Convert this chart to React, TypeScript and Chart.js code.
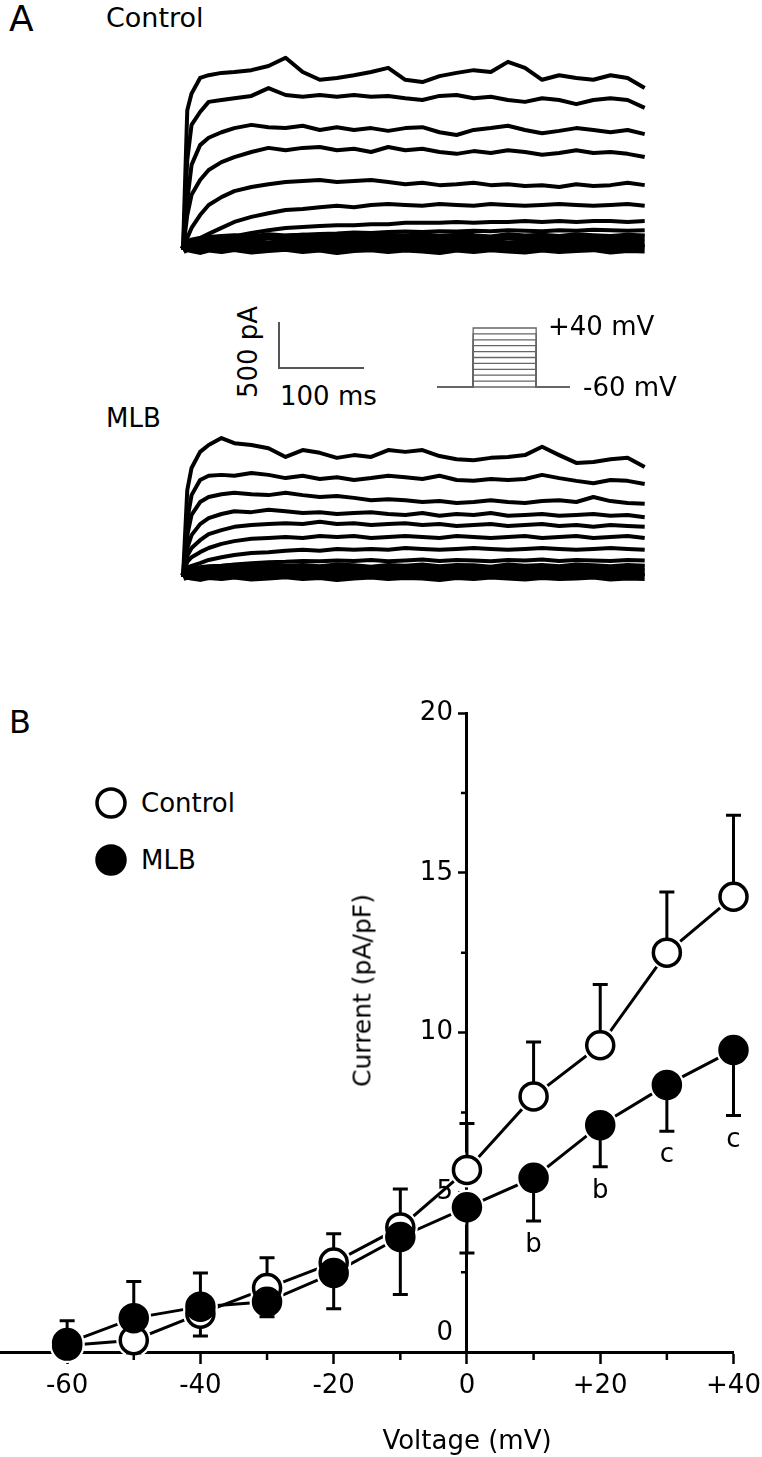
import React, { useEffect, useRef } from "react";
import { Chart, registerables } from "chart.js";

Chart.register(...registerables);

const FONT = "'DejaVu Sans', Verdana, sans-serif";

// ---------------- Panel A: current traces (pA) sampled at these times (ms) ----------------
const traceTimesMs = [0, 5, 10, 20, 30, 45, 60, 80, 100, 120, 140, 160, 180, 200, 220, 240, 260, 280, 300, 320, 340, 360, 380, 400, 420, 440, 460, 480, 500, 520, 540];

// Control traces, steps +40 ... -60 mV
const controlP40 = [0, 1520, 1700, 1870, 1900, 1925, 1935, 1955, 2000, 2090, 1935, 1850, 1870, 1900, 1935, 1980, 1850, 1825, 1890, 1925, 1955, 1935, 2045, 1980, 1850, 1900, 1870, 1850, 1900, 1870, 1760];
const controlP30 = [0, 980, 1360, 1500, 1610, 1630, 1650, 1675, 1760, 1685, 1665, 1685, 1665, 1685, 1665, 1675, 1650, 1630, 1675, 1685, 1650, 1665, 1630, 1610, 1650, 1630, 1585, 1630, 1650, 1630, 1545];
const controlP20 = [0, 540, 925, 1140, 1220, 1280, 1325, 1360, 1335, 1325, 1350, 1305, 1335, 1305, 1325, 1295, 1325, 1335, 1280, 1250, 1305, 1325, 1350, 1305, 1270, 1295, 1325, 1305, 1280, 1305, 1260];
const controlP10 = [0, 380, 600, 760, 870, 955, 1010, 1065, 1110, 1085, 1110, 1120, 1085, 1100, 1065, 1120, 1085, 1100, 1065, 1045, 1075, 1055, 1085, 1065, 1035, 1055, 1085, 1055, 1065, 1045, 1010];
const control0 = [0, 130, 240, 380, 490, 575, 640, 685, 715, 740, 750, 760, 740, 750, 760, 740, 715, 730, 705, 715, 730, 705, 715, 695, 705, 685, 715, 695, 705, 730, 705];
const controlM10 = [0, 55, 85, 130, 175, 240, 305, 360, 400, 435, 445, 465, 480, 465, 490, 500, 490, 480, 500, 490, 480, 500, 490, 480, 490, 500, 490, 480, 490, 500, 480];
const controlM20 = [0, 30, 45, 65, 85, 120, 150, 185, 215, 240, 250, 260, 270, 270, 280, 280, 295, 295, 295, 305, 295, 305, 305, 315, 305, 315, 305, 315, 315, 305, 315];
const controlM30 = [0, 20, 30, 45, 60, 80, 100, 120, 140, 155, 165, 175, 180, 190, 185, 195, 200, 195, 205, 200, 210, 205, 215, 210, 205, 215, 210, 220, 215, 210, 215];
const controlM40 = [0, 60, 90, 110, 120, 130, 140, 125, 150, 135, 145, 130, 150, 140, 125, 145, 135, 150, 130, 145, 140, 125, 150, 135, 145, 130, 150, 140, 130, 145, 135];
const controlM50 = [0, 50, 60, 70, 55, 80, 65, 75, 60, 80, 70, 55, 75, 65, 80, 60, 75, 70, 55, 80, 65, 75, 60, 70, 80, 60, 75, 65, 70, 60, 75];
const controlM60 = [0, 20, 10, -10, 15, 0, 20, -5, 10, 25, 0, 15, -10, 10, 20, 0, 15, 5, -10, 15, 0, 20, 5, -5, 15, 0, 10, 20, -5, 10, 5];

// MLB traces, steps +40 ... -60 mV
const mlbP40 = [0, 945, 1185, 1360, 1435, 1510, 1455, 1435, 1400, 1305, 1380, 1350, 1295, 1325, 1305, 1380, 1360, 1380, 1315, 1280, 1270, 1295, 1305, 1325, 1415, 1325, 1240, 1250, 1280, 1295, 1195];
const mlbP30 = [0, 620, 890, 1055, 1100, 1110, 1100, 1130, 1110, 1075, 1100, 1065, 1085, 1055, 1075, 1100, 1085, 1065, 1100, 1055, 1045, 1065, 1055, 1065, 1110, 1075, 1045, 1020, 1055, 1045, 1010];
const mlbP20 = [0, 455, 675, 815, 870, 900, 915, 900, 890, 915, 890, 870, 880, 860, 835, 845, 835, 815, 825, 805, 815, 835, 815, 805, 825, 835, 815, 870, 825, 805, 795];
const mlbP10 = [0, 315, 455, 575, 640, 685, 715, 705, 730, 715, 695, 705, 685, 695, 705, 685, 675, 695, 665, 685, 675, 695, 665, 675, 685, 665, 675, 685, 665, 675, 650];
const mlb0 = [0, 230, 315, 400, 465, 510, 545, 565, 575, 585, 575, 600, 575, 585, 565, 575, 585, 565, 575, 555, 565, 575, 555, 565, 575, 555, 565, 545, 565, 555, 545];
const mlbM10 = [0, 165, 215, 270, 315, 360, 390, 415, 425, 435, 425, 445, 435, 445, 425, 435, 445, 435, 425, 445, 435, 425, 435, 445, 425, 435, 445, 425, 435, 445, 425];
const mlbM20 = [0, 100, 120, 150, 185, 215, 240, 260, 270, 285, 295, 285, 305, 295, 305, 295, 315, 305, 295, 305, 315, 305, 295, 305, 315, 305, 295, 305, 315, 305, 295];
const mlbM30 = [0, 60, 75, 90, 105, 120, 135, 150, 160, 165, 175, 170, 180, 175, 185, 170, 180, 190, 175, 185, 180, 170, 185, 180, 190, 175, 185, 180, 175, 185, 180];
const mlbM40 = [0, 50, 70, 85, 95, 100, 110, 95, 115, 100, 110, 95, 115, 105, 90, 110, 100, 115, 95, 110, 105, 90, 115, 100, 110, 95, 115, 105, 95, 110, 100];
const mlbM50 = [0, 40, 45, 55, 40, 60, 50, 55, 45, 60, 50, 40, 55, 45, 60, 45, 55, 50, 40, 60, 45, 55, 45, 50, 60, 45, 55, 45, 50, 45, 55];
const mlbM60 = [0, 15, 5, -10, 10, 0, 15, -5, 5, 20, 0, 10, -10, 5, 15, 0, 10, 5, -10, 10, 0, 15, 5, -5, 10, 0, 5, 15, -5, 5, 0];

const controlTraces = [controlP40, controlP30, controlP20, controlP10, control0, controlM10, controlM20, controlM30, controlM40, controlM50, controlM60];
const mlbTraces = [mlbP40, mlbP30, mlbP20, mlbP10, mlb0, mlbM10, mlbM20, mlbM30, mlbM40, mlbM50, mlbM60];

// Voltage protocol (schematic)
const protocolLevelsMv = [-60, -50, -40, -30, -20, -10, 0, 10, 20, 30, 40];
const holdingMv = -60;
const protocolTimesMs = [0, 310, 850, 1140]; // start, pulse on, pulse off, end

// Scale bar values
const scaleBarPa = 500;
const scaleBarMs = 100;

// ---------------- Panel B: I-V relation ----------------
const voltagesMv = [-60, -50, -40, -30, -20, -10, 0, 10, 20, 30, 40];
const controlMean = [0.2, 0.37, 1.2, 2.0, 2.8, 3.9, 5.7, 8.0, 9.6, 12.5, 14.25];
const controlSem = [0.3, 0.4, 0.7, 0.95, 0.9, 1.2, 1.45, 1.7, 1.9, 1.9, 2.55];
const mlbMean = [0.28, 1.06, 1.42, 1.57, 2.47, 3.6, 4.53, 5.45, 7.1, 8.36, 9.45];
const mlbSem = [0.7, 1.15, 1.05, 0.47, 1.12, 1.8, 1.43, 1.35, 1.3, 1.45, 2.05];
const sigLetters = ["", "", "", "", "", "", "", "b", "b", "c", "c"];
const xTickValues = [-60, -40, -20, 0, 20, 40];
const xMinorTicks = [-50, -30, -10, 10, 30];
const yTickValues = [0, 5, 10, 15, 20];
const yMinorTicks = [2.5, 7.5, 12.5, 17.5];

// ---------------- layout (px) ----------------
const PX_PER_MS = 0.855;
const PX_PER_PA = 0.092;
const TRACE_X0 = 183;
const CTRL_BOX = { left: 173, top: 40, width: 482, height: 225, zeroY: 250 };
const MLB_BOX = { left: 173, top: 420, width: 482, height: 172, zeroY: 577 };
const PROTO_BOX = { left: 430, top: 318, width: 150, height: 78 };
const IV_BOX = { left: 0, top: 690, width: 800, height: 767 };
const IV_AREA_WIDTH = 733;

function makeTraceChart(canvas: HTMLCanvasElement, box: any, traces: number[][]) {
  const xMin = (box.left - TRACE_X0) / PX_PER_MS;
  const xMax = (box.left + box.width - TRACE_X0) / PX_PER_MS;
  const yMax = (box.zeroY - box.top) / PX_PER_PA;
  const yMin = -(box.top + box.height - box.zeroY) / PX_PER_PA;
  return new Chart(canvas, {
    type: "line",
    data: {
      datasets: traces.map((vals, i) => ({
        data: vals.map((v, j) => ({ x: traceTimesMs[j], y: v })),
        borderColor: "#000",
        borderWidth: i >= 8 ? 8 : 4,
        borderJoinStyle: "round" as const,
        pointRadius: 0,
        tension: 0,
        clip: false as any,
      })),
    },
    options: {
      animation: false,
      responsive: false,
      devicePixelRatio: 1,
      events: [],
      layout: { padding: 0 },
      plugins: { legend: { display: false }, tooltip: { enabled: false } },
      scales: {
        x: { type: "linear", display: false, min: xMin, max: xMax },
        y: { type: "linear", display: false, min: yMin, max: yMax },
      },
    },
  });
}

function makeProtocolChart(canvas: HTMLCanvasElement) {
  const pxPerMs = 133 / protocolTimesMs[3];
  const pxPerMv = 59 / 100;
  const baseY = 387;
  const x0 = 437;
  const xMin = (PROTO_BOX.left - x0) / pxPerMs;
  const xMax = (PROTO_BOX.left + PROTO_BOX.width - x0) / pxPerMs;
  const yMax = holdingMv + (baseY - PROTO_BOX.top) / pxPerMv;
  const yMin = holdingMv - (PROTO_BOX.top + PROTO_BOX.height - baseY) / pxPerMv;
  const [t0, tOn, tOff, tEnd] = protocolTimesMs;
  return new Chart(canvas, {
    type: "line",
    data: {
      datasets: protocolLevelsMv.map((v) => ({
        data: [
          { x: t0, y: holdingMv },
          { x: tOn, y: holdingMv },
          { x: tOn, y: v },
          { x: tOff, y: v },
          { x: tOff, y: holdingMv },
          { x: tEnd, y: holdingMv },
        ],
        borderColor: "#666",
        borderWidth: 1.3,
        pointRadius: 0,
        tension: 0,
        clip: false as any,
      })),
    },
    options: {
      animation: false,
      responsive: false,
      devicePixelRatio: 1,
      events: [],
      layout: { padding: 0 },
      plugins: { legend: { display: false }, tooltip: { enabled: false } },
      scales: {
        x: { type: "linear", display: false, min: xMin, max: xMax },
        y: { type: "linear", display: false, min: yMin, max: yMax },
      },
    },
  });
}

const ivExtras = {
  id: "ivExtras",
  beforeDatasetDraw(chart: any, args: any) {
    if (args.index !== 1) return;
    const { ctx } = chart;
    const xs = chart.scales.x;
    const ys = chart.scales.y;
    ctx.save();
    ctx.strokeStyle = "#000";
    ctx.lineWidth = 3;
    const bar = (v: number, m: number, s: number, dir: number) => {
      const px = xs.getPixelForValue(v);
      const y0 = ys.getPixelForValue(m);
      const y1 = ys.getPixelForValue(m + dir * s);
      ctx.beginPath();
      ctx.moveTo(px, y0);
      ctx.lineTo(px, y1);
      ctx.moveTo(px - 7.5, y1);
      ctx.lineTo(px + 7.5, y1);
      ctx.stroke();
    };
    voltagesMv.forEach((v, i) => {
      const ctrlUp = controlMean[i] >= mlbMean[i];
      bar(v, controlMean[i], controlSem[i], ctrlUp ? 1 : -1);
      bar(v, mlbMean[i], mlbSem[i], ctrlUp ? -1 : 1);
    });
    ctx.restore();
  },
  afterDraw(chart: any) {
    const { ctx } = chart;
    const xs = chart.scales.x;
    const ys = chart.scales.y;
    const x0 = xs.getPixelForValue(0);
    const y0 = ys.getPixelForValue(0);
    ctx.save();
    ctx.strokeStyle = "#000";
    ctx.lineWidth = 2.5;
    ctx.beginPath();
    xMinorTicks.forEach((v) => {
      const px = xs.getPixelForValue(v);
      ctx.moveTo(px, y0 + 1.5);
      ctx.lineTo(px, y0 + 8);
    });
    yMinorTicks.forEach((v) => {
      const py = ys.getPixelForValue(v);
      ctx.moveTo(x0 - 1.5, py);
      ctx.lineTo(x0 - 6, py);
    });
    ctx.stroke();
    ctx.fillStyle = "#000";
    ctx.font = `26px ${FONT}`;
    ctx.textAlign = "right";
    ctx.textBaseline = "middle";
    yTickValues.forEach((v) => {
      if (v === 0) ctx.fillText("0", x0 - 14, y0 - 19);
      else ctx.fillText(String(v), x0 - 14, ys.getPixelForValue(v));
    });
    ctx.textAlign = "center";
    ctx.textBaseline = "alphabetic";
    voltagesMv.forEach((v, i) => {
      if (!sigLetters[i]) return;
      const py = ys.getPixelForValue(mlbMean[i] - mlbSem[i]);
      ctx.fillText(sigLetters[i], xs.getPixelForValue(v), py + 31);
    });
    ctx.restore();
  },
};

function makeIVChart(canvas: HTMLCanvasElement) {
  const ctrlPts = voltagesMv.map((v, i) => ({ x: v, y: controlMean[i] }));
  const mlbPts = voltagesMv.map((v, i) => ({ x: v, y: mlbMean[i] }));
  const pointSet = (data: any, fill: string, r: number, bw: number, stroke: string) => ({
    data,
    showLine: false,
    pointRadius: r,
    pointBorderWidth: bw,
    pointBackgroundColor: fill,
    pointBorderColor: stroke,
    pointHoverRadius: r,
    clip: false as any,
  });
  const lineSet = (data: any) => ({
    data,
    showLine: true,
    borderColor: "#000",
    borderWidth: 3,
    pointRadius: 0,
    tension: 0,
    clip: false as any,
  });
  const chart = new Chart(canvas, {
    type: "line",
    data: {
      datasets: [
        { label: "MLB", ...pointSet(mlbPts, "#000", 13.5, 3.5, "#000") },
        { label: "Control", ...pointSet(ctrlPts, "#fff", 13.5, 3.5, "#000") },
        { label: "MLB gap", ...pointSet(mlbPts, "#fff", 17.5, 0, "#fff") },
        { label: "Control gap", ...pointSet(ctrlPts, "#fff", 17.5, 0, "#fff") },
        { label: "MLB line", ...lineSet(mlbPts) },
        { label: "Control line", ...lineSet(ctrlPts) },
      ] as any,
    },
    options: {
      animation: false,
      responsive: false,
      devicePixelRatio: 1,
      events: [],
      layout: { padding: { left: 0, right: IV_BOX.width - IV_AREA_WIDTH, top: 23, bottom: 105 } },
      plugins: { legend: { display: false }, tooltip: { enabled: false } },
      scales: {
        x: {
          type: "linear",
          min: -70,
          max: 40,
          position: { y: 0 } as any,
          z: 1,
          afterBuildTicks: (s: any) => {
            s.ticks = xTickValues.map((v) => ({ value: v }));
          },
          ticks: {
            autoSkip: false,
            maxRotation: 0,
            padding: 9,
            color: "#000",
            font: { family: FONT, size: 26 },
            callback: (v: any) => (Number(v) > 0 ? "+" + v : String(v)),
          },
          grid: { drawOnChartArea: false, drawTicks: true, tickLength: 10, tickWidth: 2.5, tickColor: "#000" },
          border: { display: true, color: "#000", width: 3 },
        },
        y: {
          type: "linear",
          min: 0,
          max: 20,
          position: { x: 0 } as any,
          z: 1,
          afterBuildTicks: (s: any) => {
            s.ticks = yTickValues.map((v) => ({ value: v }));
          },
          ticks: { display: false },
          grid: { drawOnChartArea: false, drawTicks: true, tickLength: 7, tickWidth: 2.5, tickColor: "#000" },
          border: { display: true, color: "#000", width: 3 },
        },
      },
    },
    plugins: [ivExtras],
  });
  // make the plot area exactly IV_AREA_WIDTH wide and start at the page's left edge
  const ca = chart.chartArea;
  const diff = ca.right - ca.left - IV_AREA_WIDTH;
  if (Math.abs(diff) > 0.5) {
    const p: any = chart.options.layout!.padding;
    chart.options.layout!.padding = { left: 0, right: p.right + diff, top: 23, bottom: 105 } as any;
    chart.update();
  }
  canvas.style.left = `${IV_BOX.left - chart.chartArea.left}px`;
  return chart;
}

function Txt(props: { x: number; y: number; size: number; children: any; align?: "left" | "center"; rotate?: boolean; w?: number }) {
  const { x, y, size, children, align = "left", rotate = false, w = 300 } = props;
  const style: any = {
    position: "absolute",
    top: y - size / 2,
    fontSize: size,
    lineHeight: `${size}px`,
    fontFamily: FONT,
    whiteSpace: "nowrap",
    color: "#000",
  };
  if (align === "center" || rotate) {
    style.left = x - w / 2;
    style.width = w;
    style.textAlign = "center";
  } else {
    style.left = x;
  }
  if (rotate) {
    style.transform = "rotate(-90deg)";
    style.transformOrigin = "center center";
  }
  return <div style={style}>{children}</div>;
}

export default function App() {
  const ctrlRef = useRef<HTMLCanvasElement>(null);
  const mlbRef = useRef<HTMLCanvasElement>(null);
  const protoRef = useRef<HTMLCanvasElement>(null);
  const ivRef = useRef<HTMLCanvasElement>(null);

  useEffect(() => {
    const charts: Chart[] = [];
    if (ctrlRef.current) charts.push(makeTraceChart(ctrlRef.current, CTRL_BOX, controlTraces));
    if (mlbRef.current) charts.push(makeTraceChart(mlbRef.current, MLB_BOX, mlbTraces));
    if (protoRef.current) charts.push(makeProtocolChart(protoRef.current));
    if (ivRef.current) charts.push(makeIVChart(ivRef.current));
    return () => charts.forEach((c) => c.destroy());
  }, []);

  const cv = (box: any) => ({
    position: "absolute" as const,
    left: box.left,
    top: box.top,
    width: box.width,
    height: box.height,
  });

  const barX = 279;
  const barBottom = 368;
  const barH = scaleBarPa * PX_PER_PA;
  const barW = scaleBarMs * PX_PER_MS;

  return (
    <div style={{ position: "absolute", left: 0, top: 0, width: 762, height: 1457, background: "#fff", overflow: "hidden" }}>
      {/* Panel A */}
      <Txt x={9} y={19} size={36}>A</Txt>
      <Txt x={106} y={17} size={27}>Control</Txt>
      <canvas ref={ctrlRef} width={CTRL_BOX.width} height={CTRL_BOX.height} style={cv(CTRL_BOX)} />

      {/* scale bar */}
      <div style={{ position: "absolute", left: barX - 1, top: barBottom - barH, width: 2, height: barH, background: "#555" }} />
      <div style={{ position: "absolute", left: barX - 1, top: barBottom - 1, width: barW, height: 2, background: "#555" }} />
      <Txt x={248} y={352} size={26} rotate w={140}>500 pA</Txt>
      <Txt x={280} y={396} size={26}>100 ms</Txt>

      {/* protocol */}
      <canvas ref={protoRef} width={PROTO_BOX.width} height={PROTO_BOX.height} style={cv(PROTO_BOX)} />
      <Txt x={548} y={326} size={26}>+40 mV</Txt>
      <Txt x={583} y={387} size={26}>-60 mV</Txt>

      <Txt x={106} y={418} size={26}>MLB</Txt>
      <canvas ref={mlbRef} width={MLB_BOX.width} height={MLB_BOX.height} style={cv(MLB_BOX)} />

      {/* Panel B */}
      <Txt x={9} y={722} size={32}>B</Txt>
      <svg style={{ position: "absolute", left: 90, top: 780, width: 45, height: 105 }} width={45} height={105}>
        <circle cx={21} cy={23} r={14} fill="#fff" stroke="#000" strokeWidth={3.5} />
        <circle cx={21} cy={80} r={14} fill="#000" stroke="#000" strokeWidth={3.5} />
      </svg>
      <Txt x={141} y={803} size={26}>Control</Txt>
      <Txt x={141} y={860} size={26}>MLB</Txt>

      <canvas ref={ivRef} width={IV_BOX.width} height={IV_BOX.height} style={cv(IV_BOX)} />
      <Txt x={362} y={990} size={25} rotate w={260}>Current (pA/pF)</Txt>
      <Txt x={467} y={1440} size={26} align="center" w={260}>Voltage (mV)</Txt>
    </div>
  );
}
